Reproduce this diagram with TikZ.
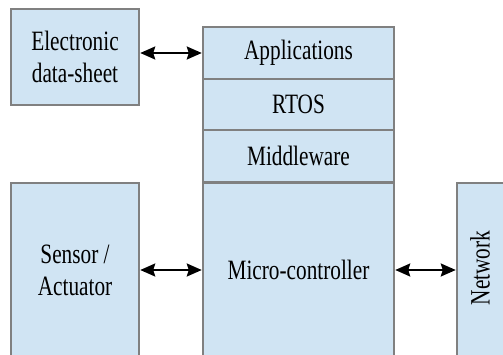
\documentclass[tikz,border=0pt]{standalone}
\usepackage{fontspec}
\setmainfont{Liberation Serif}[FakeStretch=0.76]
\usetikzlibrary{arrows.meta}
\definecolor{boxfill}{RGB}{208,228,243}
\definecolor{boxline}{RGB}{128,128,128}
\tikzset{
  blk/.style={draw=boxline, line width=1.3pt, fill=boxfill, inner sep=0pt, align=center,
    font=\fontsize{28}{32}\selectfont},
  headtip/.tip={Stealth[length=15pt,width=13pt,inset=2pt]},
  arr/.style={line width=2pt, headtip-headtip, shorten <=0.6pt, shorten >=0.6pt}
}
\begin{document}
\begin{tikzpicture}[x=1pt,y=1pt]
\clip (0,0) rectangle (503,354);
\fill[white] (0,0) rectangle (503,354);
\node[blk, minimum width=128pt, minimum height=96pt] (eds) at (75,297) {Electronic\\data-sheet};
\node[blk, minimum width=191pt, minimum height=52pt] (app) at (298.5,301) {Applications};
\node[blk, minimum width=191pt, minimum height=51pt] (rtos) at (298.5,249.5) {RTOS};
\node[blk, minimum width=191pt, minimum height=52pt] (mw) at (298.5,198) {Middleware};
\node[blk, minimum width=191pt, minimum height=174pt] (mc) at (298.5,84) {Micro-controller};
\node[blk, minimum width=128pt, minimum height=174pt] (sa) at (75,84) {Sensor /\\Actuator};
\node[blk, minimum width=52pt, minimum height=174pt] (net) at (483,84) {};
\node[rotate=90, font=\fontsize{28}{32}\selectfont, inner sep=0pt] (nettxt) at (480,86) {Network};
\draw[arr] (eds.east |- app.west) -- (app.west);
\draw[arr] (sa.east) -- (mc.west);
\draw[arr] (mc.east) -- (net.west);
\end{tikzpicture}
\end{document}
